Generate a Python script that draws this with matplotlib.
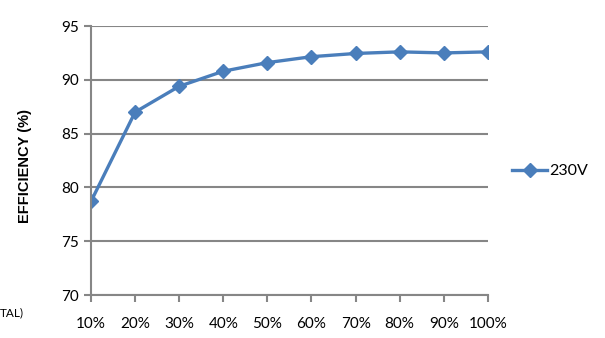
import matplotlib
matplotlib.use('Agg')
import matplotlib.pyplot as plt

# efficiency vs load, 230V input
loads = ['10%', '20%', '30%', '40%', '50%', '60%', '70%', '80%', '90%', '100%']
eff_230v = [78.7, 87.0, 89.4, 90.8, 91.6, 92.15, 92.45, 92.6, 92.5, 92.6]
yticks = [70, 75, 80, 85, 90, 95]

grey = '#868686'
blue = '#4a7ebb'

fig = plt.figure(figsize=(6.05, 3.38), dpi=100)
ax = fig.add_axes([0.1504, 0.127, 0.656, 0.796])

x = list(range(len(loads)))
ax.plot(x, eff_230v, color=blue, lw=2.4, marker='D', ms=7.5,
        label='230V')

ax.set_xlim(0, len(loads) - 1)
ax.set_ylim(70, 95)
ax.set_yticks(yticks)
ax.set_xticks(x)
ax.set_xticklabels(loads)
ax.yaxis.grid(True, color=grey, lw=1.5)
ax.set_axisbelow(True)

for s in ['top', 'right']:
    ax.spines[s].set_visible(False)
for s in ['left', 'bottom']:
    ax.spines[s].set_color(grey)
    ax.spines[s].set_linewidth(1.5)
ax.tick_params(color=grey, width=1.5, length=5, labelsize=11)
ax.tick_params(axis='x', pad=11)
for lab in ax.get_xticklabels() + ax.get_yticklabels():
    lab.set_family('Lato')

ax.set_ylabel('EFFICIENCY (%)', fontsize=10.5, fontweight='bold',
              family='Liberation Sans')
ax.yaxis.set_label_coords(-0.148, 0.48)

fig.text(0.0, 0.075, 'TAL)', fontsize=8.5, family='Lato', va='center')

ax.legend(loc='center left', bbox_to_anchor=(1.025, 0.46), frameon=False,
          handlelength=2.2, handletextpad=0.1, prop={'family': 'Lato', 'size': 11.5})

fig.savefig('out.png', dpi=100)
